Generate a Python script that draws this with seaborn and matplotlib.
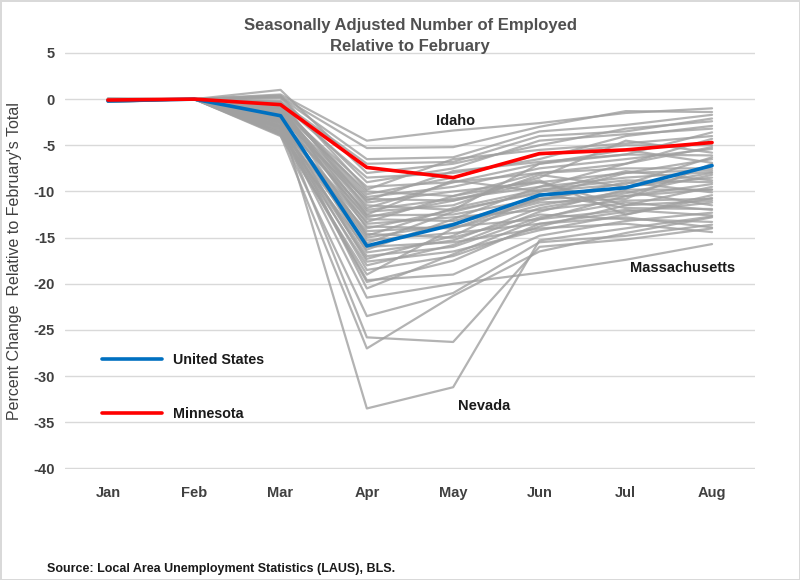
import matplotlib
matplotlib.use("Agg")
import matplotlib.pyplot as plt
import seaborn as sns
import pandas as pd

months = ["Jan", "Feb", "Mar", "Apr", "May", "Jun", "Jul", "Aug"]

us_values = [-0.2, 0.0, -1.8, -15.9, -13.6, -10.4, -9.6, -7.2]
mn_values = [-0.1, 0.0, -0.6, -7.4, -8.5, -5.9, -5.5, -4.7]

# Individual states (gray lines), percent change vs February
state_names = [f"S{i:02d}" for i in range(1, 51)]
state_values = [
    [0.0, 0, 0.5, -4.5, -3.4, -2.6, -1.5, -1.0],
    [-0.1, 0, 0.3, -5.3, -5.2, -3.0, -1.3, -1.4],
    [0.0, 0, 0.2, -6.5, -6.3, -3.5, -2.8, -1.7],
    [-0.1, 0, -0.3, -7.0, -6.8, -4.0, -3.5, -2.1],
    [0.0, 0, 1.0, -8.0, -7.0, -5.0, -3.2, -2.4],
    [-0.2, 0, -0.5, -8.5, -8.0, -6.5, -4.0, -2.9],
    [0.0, 0, 0.1, -9.0, -7.5, -4.5, -3.8, -3.2],
    [-0.1, 0, -1.0, -9.5, -9.0, -7.0, -6.0, -3.6],
    [0.1, 0, 0.4, -9.8, -6.5, -5.5, -4.8, -4.0],
    [-0.2, 0, -1.2, -10.0, -10.5, -8.0, -7.0, -4.3],
    [0.0, 0, -0.6, -10.3, -8.5, -6.0, -5.0, -5.0],
    [-0.1, 0, -0.8, -10.6, -9.5, -7.5, -6.5, -5.4],
    [0.0, 0, -1.5, -10.8, -11.0, -8.5, -4.5, -5.8],
    [-0.3, 0, -2.0, -11.0, -7.8, -6.8, -6.0, -6.1],
    [0.0, 0, -0.4, -11.2, -10.0, -9.0, -8.0, -6.5],
    [-0.1, 0, -1.8, -11.5, -12.0, -7.0, -5.5, -6.9],
    [0.0, 0, -0.2, -11.8, -9.0, -8.0, -7.5, -7.5],
    [-0.2, 0, -1.0, -12.0, -10.8, -9.5, -8.5, -7.9],
    [0.0, 0, -2.5, -12.2, -11.5, -8.2, -9.5, -8.5],
    [-0.1, 0, -1.4, -12.5, -8.8, -10.0, -7.8, -8.8],
    [0.0, 0, -0.9, -12.6, -12.5, -10.8, -10.5, -9.2],
    [-0.2, 0, -2.2, -12.8, -11.0, -9.0, -11.5, -9.5],
    [0.0, 0, -1.6, -13.0, -13.2, -11.0, -9.0, -10.1],
    [-0.1, 0, -3.0, -13.3, -10.5, -8.8, -12.5, -10.7],
    [0.0, 0, -1.1, -13.5, -12.8, -12.0, -11.0, -10.8],
    [-0.3, 0, -2.8, -13.8, -14.0, -11.5, -10.0, -11.5],
    [0.0, 0, -0.7, -14.0, -12.0, -10.2, -11.8, -11.9],
    [-0.1, 0, -3.5, -14.3, -13.8, -13.0, -12.0, -12.6],
    [0.0, 0, -2.4, -14.6, -15.0, -12.5, -13.0, -13.3],
    [-0.2, 0, -1.3, -14.8, -11.8, -9.8, -8.8, -9.0],
    [0.0, 0, -2.6, -15.0, -13.5, -11.2, -10.8, -7.0],
    [-0.1, 0, -1.9, -15.3, -14.5, -13.5, -12.8, -13.9],
    [0.0, 0, -3.2, -15.6, -12.2, -10.0, -9.2, -6.3],
    [-0.2, 0, -2.1, -16.0, -15.5, -14.0, -13.5, -14.4],
    [0.0, 0, -3.8, -16.3, -13.0, -9.5, -7.0, -5.2],
    [-0.1, 0, -1.7, -16.6, -15.3, -11.8, -10.2, -8.2],
    [0.0, 0, -2.9, -17.0, -16.0, -12.8, -11.2, -12.0],
    [-0.2, 0, -3.3, -17.3, -14.8, -10.5, -8.0, -7.7],
    [0.0, 0, -2.3, -17.6, -16.5, -14.2, -12.5, -10.4],
    [-0.1, 0, -3.6, -18.0, -15.8, -12.2, -9.8, -9.8],
    [0.0, 0, -2.7, -18.5, -17.0, -13.8, -11.5, -11.0],
    [-0.3, 0, -4.0, -19.0, -14.0, -10.8, -9.5, -8.0],
    [0.0, 0, -3.1, -19.6, -19.0, -14.8, -13.2, -12.3],
    [-0.1, 0, -3.4, -19.8, -17.5, -13.5, -12.2, -11.2],
    [0.0, 0, -2.0, -20.5, -16.8, -13.0, -10.5, -9.8],
    [-0.2, 0, -3.0, -21.5, -20.0, -18.8, -17.4, -15.7],
    [0.0, 0, -3.7, -23.5, -21.0, -15.5, -14.8, -13.6],
    [-0.1, 0, -2.5, -25.8, -26.3, -16.0, -15.2, -14.0],
    [0.0, 0, -3.9, -27.0, -21.3, -16.5, -14.5, -12.8],
    [-0.1, 0, -2.2, -33.5, -31.2, -15.3, -14.0, -12.7],
]

yticks = list(range(5, -45, -5))

# build long-form data
rows = []
for name, vals in zip(state_names, state_values):
    for i, v in enumerate(vals):
        rows.append({"state": name, "month": i, "value": v})
states_df = pd.DataFrame(rows)
us_df = pd.DataFrame({"month": range(len(months)), "value": us_values})
mn_df = pd.DataFrame({"month": range(len(months)), "value": mn_values})

sns.set_theme(style="white")
plt.rcParams["font.family"] = ["Liberation Sans", "DejaVu Sans"]
plt.rcParams["axes.unicode_minus"] = False

fig = plt.figure(figsize=(8, 5.8), dpi=100)
fig.patch.set_edgecolor("#d9d9d9")
fig.patch.set_linewidth(2)
ax = fig.add_axes([0.081, 0.191, 0.863, 0.719])

sns.lineplot(data=states_df, x="month", y="value", units="state", estimator=None,
             color="#a0a0a0", alpha=0.8, linewidth=1.6, ax=ax, legend=False)
sns.lineplot(data=us_df, x="month", y="value", color="#0070C0", linewidth=2.6,
             ax=ax, label="United States")
sns.lineplot(data=mn_df, x="month", y="value", color="#FF0000", linewidth=2.6,
             ax=ax, label="Minnesota")

ax.set_xlim(-0.5, 7.5)
ax.set_ylim(-40.08, 5.08)
ax.set_yticks(yticks)
ax.set_xticks(range(len(months)))
ax.set_xticklabels(months)
ax.yaxis.grid(True, color="#d9d9d9", linewidth=1)
ax.xaxis.grid(False)
ax.set_axisbelow(True)
for s in ax.spines.values():
    s.set_visible(False)
ax.tick_params(axis="both", length=0, labelsize=10.5, labelcolor="#404040")
for lab in ax.get_xticklabels() + ax.get_yticklabels():
    lab.set_fontweight("bold")
ax.tick_params(axis="x", pad=12)
ax.tick_params(axis="y", pad=7)
ax.set_xlabel("")
ax.set_ylabel("Percent Change  Relative to February's Total", fontsize=11.5,
              color="#404040", labelpad=8)

ax.set_title("Seasonally Adjusted Number of Employed\nRelative to February",
             fontsize=12, fontweight="bold", color="#505050", pad=1,
             linespacing=1.5)

leg = ax.legend(loc="upper left", bbox_to_anchor=(0.035, 0.31), frameon=False,
                labelspacing=2.8, handlelength=4.2, handletextpad=0.8,
                prop={"weight": "bold", "size": 10.3})
for t in leg.get_texts():
    t.set_color("#1a1a1a")

ax.text(4.03, -2.4, "Idaho", fontsize=10.5, fontweight="bold", color="#1a1a1a",
        ha="center", va="center")
ax.text(4.36, -33.2, "Nevada", fontsize=10.5, fontweight="bold", color="#1a1a1a",
        ha="center", va="center")
ax.text(6.66, -18.3, "Massachusetts", fontsize=10.5, fontweight="bold",
        color="#1a1a1a", ha="center", va="center")

fig.text(0.059, 0.008, "Source: Local Area Unemployment Statistics (LAUS), BLS.",
         fontsize=9, fontweight="bold", color="#1a1a1a", ha="left", va="bottom")

fig.savefig("out.png", dpi=100)
